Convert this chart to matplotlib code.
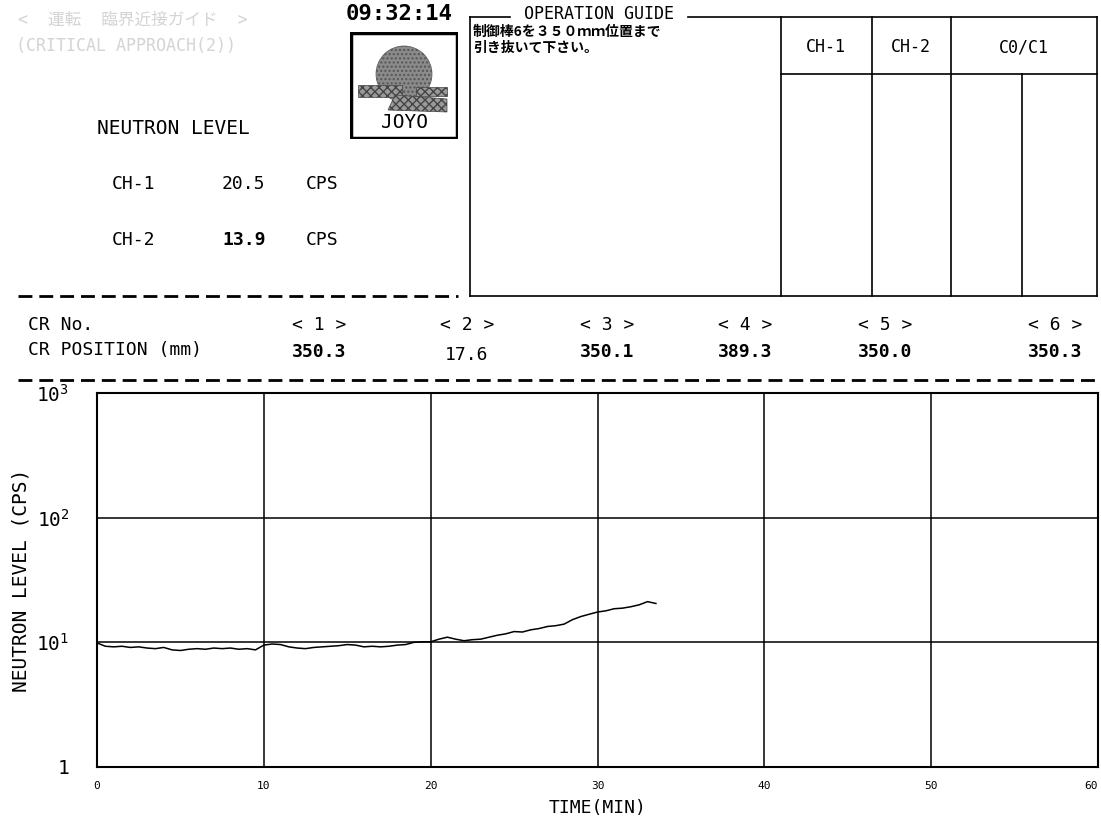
import matplotlib
matplotlib.use("Agg")
import matplotlib.pyplot as plt
from matplotlib.lines import Line2D
from matplotlib.patches import Circle, Rectangle, Polygon
from matplotlib.ticker import FixedLocator, FixedFormatter, NullLocator

plt.rcParams['font.family'] = ['DejaVu Sans Mono', 'Noto Sans CJK JP']
plt.rcParams['mathtext.fontset'] = 'custom'
plt.rcParams['mathtext.rm'] = 'DejaVu Sans Mono'

W, H = 1101, 819

# neutron level trend (CH-1), every half minute
time_min = [0, 0.5, 1, 1.5, 2, 2.5, 3, 3.5, 4, 4.5, 5, 5.5, 6, 6.5, 7, 7.5, 8, 8.5, 9, 9.5,
            10, 10.5, 11, 11.5, 12, 12.5, 13, 13.5, 14, 14.5, 15, 15.5, 16, 16.5, 17, 17.5,
            18, 18.5, 19, 19.5, 20, 20.5, 21, 21.5, 22, 22.5, 23, 23.5, 24, 24.5, 25, 25.5,
            26, 26.5, 27, 27.5, 28, 28.5, 29, 29.5, 30, 30.5, 31, 31.5, 32, 32.5, 33, 33.5]
level_cps = [9.9, 9.3, 9.2, 9.3, 9.1, 9.2, 9.0, 8.9, 9.1, 8.7, 8.6, 8.8, 8.9, 8.8, 9.0, 8.9,
             9.0, 8.8, 8.9, 8.7, 9.5, 9.7, 9.6, 9.2, 9.0, 8.9, 9.1, 9.2, 9.3, 9.4, 9.6, 9.5,
             9.2, 9.3, 9.2, 9.3, 9.5, 9.6, 10.0, 10.1, 10.1, 10.6, 11.0, 10.6, 10.3, 10.5,
             10.6, 11.0, 11.4, 11.7, 12.2, 12.1, 12.6, 12.9, 13.4, 13.6, 14.0, 15.2, 16.1,
             16.8, 17.5, 17.9, 18.6, 18.8, 19.3, 20.0, 21.2, 20.5]

cr_labels = ['< 1 >', '< 2 >', '< 3 >', '< 4 >', '< 5 >', '< 6 >']
cr_positions = ['350.3', '17.6', '350.1', '389.3', '350.0', '350.3']
cr_bold = [True, False, True, True, True, True]
cr_xpix = [319, 467, 607, 745, 885, 1055]

x_ticks = [0, 10, 20, 30, 40, 50, 60]
y_ticks = [1, 10, 100, 1000]
y_ticklabels = ['1', r'$\mathregular{10^{1}}$', r'$\mathregular{10^{2}}$', r'$\mathregular{10^{3}}$']

fig = plt.figure(figsize=(W / 100, H / 100), dpi=100)
fig.patch.set_facecolor('white')


def fx(x):
    return x / W


def fy(y):
    return 1 - y / H


def txt(x, y, s, size=13, weight='normal', ha='left', color='black', **kw):
    fig.text(fx(x), fy(y), s, fontsize=size, fontweight=weight, ha=ha, va='center',
             color=color, **kw)


def line(x0, y0, x1, y1, lw=1.2, dashes=None):
    ln = Line2D([fx(x0), fx(x1)], [fy(y0), fy(y1)], transform=fig.transFigure,
                color='black', lw=lw)
    if dashes:
        ln.set_dashes(dashes)
    fig.add_artist(ln)


# faded header lines
txt(18, 20, '<  運転  臨界近接ガイド  >', size=12, color='#d4d4d4')
txt(16, 46, '(CRITICAL APPROACH(2))', size=12, color='#d4d4d4')

txt(346, 14, '09:32:14', size=16, weight='bold')

# logo
lax = fig.add_axes([fx(350), fy(139), fx(458) - fx(350), fy(32) - fy(139)])
lax.set_xlim(350, 458)
lax.set_ylim(139, 32)
lax.axis('off')
lax.add_patch(Rectangle((351, 33), 106, 105, fill=False, lw=2.5, ec='black'))
lax.add_patch(Circle((404, 74), 28, fc='#8a8a8a', ec='#555555', hatch='....', lw=0.5))
lax.add_patch(Rectangle((358, 85), 44, 12, fc='#9a9a9a', ec='#444444', hatch='xxxx', lw=0.5))
lax.add_patch(Rectangle((416, 87), 31, 9, fc='#9a9a9a', ec='#444444', hatch='xxxx', lw=0.5))
lax.add_patch(Polygon([(395, 95), (447, 99), (447, 112), (388, 110)], closed=True,
                      fc='#9a9a9a', ec='#444444', hatch='xxxx', lw=0.5))
lax.text(404, 122, 'JOYO', fontsize=14, ha='center', va='center')

txt(97, 128, 'NEUTRON LEVEL', size=14)
txt(112, 184, 'CH-1', size=13)
txt(222, 184, '20.5', size=13)
txt(306, 184, 'CPS', size=13)
txt(112, 240, 'CH-2', size=13)
txt(222, 240, '13.9', size=13, weight='bold')
txt(306, 240, 'CPS', size=13)

line(18, 296, 458, 296, lw=2, dashes=(5, 2.5))

# operation guide box
line(470, 17, 470, 296)
line(470, 296, 1097, 296)
line(1097, 17, 1097, 296)
line(470, 17, 510, 17)
line(688, 17, 1097, 17)
txt(599, 14, 'OPERATION GUIDE', size=12, ha='center')
txt(473, 32, '制御棒6を３５０ｍｍ位置まで', size=10, weight='bold', family=['Noto Sans CJK JP'])
txt(473, 48, '引き抜いて下さい。', size=10, weight='bold', family=['Noto Sans CJK JP'])
for xc in [781, 872, 951]:
    line(xc, 17, xc, 296)
line(781, 74, 1097, 74)
line(1022, 74, 1022, 296)
txt(826, 47, 'CH-1', size=12, ha='center')
txt(911, 47, 'CH-2', size=12, ha='center')
txt(1024, 47, 'C0/C1', size=12, ha='center')

# control rod row
txt(28, 325, 'CR No.', size=13)
txt(28, 350, 'CR POSITION (mm)', size=13)
for xc, lab, pos, b in zip(cr_xpix, cr_labels, cr_positions, cr_bold):
    txt(xc, 325, lab, size=13, ha='center')
    txt(xc, 352 if b else 355, pos, size=13, ha='center', weight='bold' if b else 'normal')

line(18, 380, 1098, 380, lw=2, dashes=(5, 2.5))

# trend plot
ax = fig.add_axes([fx(97), fy(767), fx(1098) - fx(97), fy(393) - fy(767)])
ax.plot(time_min, level_cps, color='black', lw=1.1)
ax.set_yscale('log')
ax.set_xlim(0, 60)
ax.set_ylim(1, 1000)
ax.xaxis.set_major_locator(FixedLocator(x_ticks))
ax.yaxis.set_major_locator(FixedLocator(y_ticks))
ax.yaxis.set_major_formatter(FixedFormatter(y_ticklabels))
ax.yaxis.set_minor_locator(NullLocator())
ax.grid(True, color='black', lw=1.1)
ax.tick_params(axis='x', length=0, pad=10, labelsize=8)
ax.tick_params(axis='y', length=0, pad=20, labelsize=14)
for sp in ax.spines.values():
    sp.set_linewidth(1.5)
ax.set_xlabel('TIME(MIN)', fontsize=13, labelpad=6)
ax.set_ylabel('NEUTRON LEVEL (CPS)', fontsize=14, labelpad=4)
fig.canvas.draw()
xl = ax.get_xticklabels()
xl[-1].set_ha('right')

fig.savefig('out.png', dpi=100, facecolor='white')
